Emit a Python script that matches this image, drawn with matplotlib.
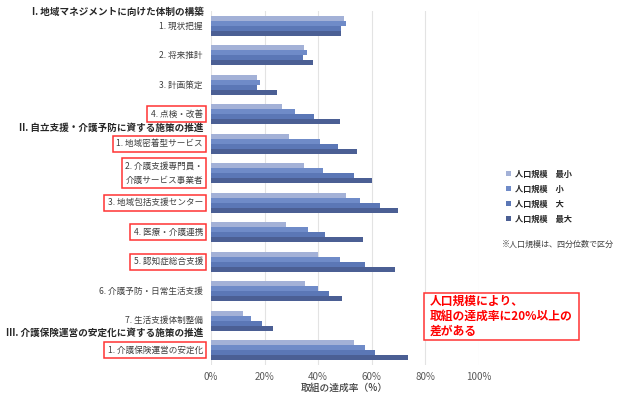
import matplotlib
matplotlib.use("Agg")
import matplotlib.pyplot as plt
from matplotlib.patches import Rectangle
import numpy as np

plt.rcParams['font.family'] = ['Noto Sans CJK JP', 'DejaVu Sans']

categories = [
    "1. 現状把握", "2. 将来推計", "3. 計画策定", "4. 点検・改善",
    "1. 地域密着型サービス", "2. 介護支援専門員・\n介護サービス事業者",
    "3. 地域包括支援センター", "4. 医療・介護連携", "5. 認知症総合支援",
    "6. 介護予防・日常生活支援", "7. 生活支援体制整備", "1. 介護保険運営の安定化",
]
boxed = [False, False, False, True, True, True, True, True, True, False, False, True]

series_names = ["人口規模　最小", "人口規模　小", "人口規模　大", "人口規模　最大"]
s_min = [0.498, 0.348, 0.172, 0.264, 0.290, 0.346, 0.505, 0.279, 0.400, 0.353, 0.118, 0.533]
s_small = [0.506, 0.358, 0.182, 0.314, 0.407, 0.417, 0.556, 0.361, 0.483, 0.400, 0.151, 0.577]
s_large = [0.485, 0.345, 0.172, 0.384, 0.475, 0.533, 0.632, 0.425, 0.575, 0.442, 0.192, 0.612]
s_max = [0.485, 0.380, 0.246, 0.481, 0.546, 0.603, 0.700, 0.567, 0.687, 0.489, 0.231, 0.738]
series = [s_min, s_small, s_large, s_max]
colors = ["#A3B1D7", "#6F8BC8", "#5B77B6", "#4B5F94"]

headers = ["I. 地域マネジメントに向けた体制の構築",
           "II. 自立支援・介護予防に資する施策の推進",
           "III. 介護保険運営の安定化に資する施策の推進"]
header_pos = [-0.47, 3.47, 10.41]

xticks = [0, 0.2, 0.4, 0.6, 0.8, 1.0]
xticklabels = ["0%", "20%", "40%", "60%", "80%", "100%"]

fig = plt.figure(figsize=(6.25, 3.97), dpi=100)
ax = fig.add_axes([211/625, 1-364.7/397, 267.5/625, 353.4/397])

y = np.arange(len(categories))
h = 0.17
for j, (vals, c, name) in enumerate(zip(series, colors, series_names)):
    ax.barh(y + (j - 1.5) * h, vals, height=h, color=c, label=name, zorder=3)

ax.set_ylim(len(categories) - 0.5, -0.5)
ax.set_xlim(0, 1.0)
ax.set_xticks(xticks)
ax.set_xticklabels(xticklabels, fontsize=7, color="#595959")
ax.set_yticks([])
ax.tick_params(axis='x', length=0, pad=5.5)
for s in ax.spines.values():
    s.set_visible(False)
ax.grid(axis='x', color="#E3E3E3", linewidth=0.8, zorder=0)
ax.set_xlabel("取組の達成率（%）", fontsize=7, color="#404040", labelpad=0.5,
              fontweight='medium')

tr = ax.get_yaxis_transform()
for i, (lab, b) in enumerate(zip(categories, boxed)):
    kw = dict(ha='right', va='center', multialignment='right', fontsize=6.2,
              color="#404040", transform=tr, clip_on=False, linespacing=1.75)
    if b:
        kw['bbox'] = dict(boxstyle='square,pad=0.4', facecolor='white',
                          edgecolor='#FF3333', linewidth=1.1)
    ax.text(-0.03, i, lab, **kw)

for hd, hp in zip(headers, header_pos):
    ax.text(-0.028, hp, hd, ha='right', va='center', fontsize=6.9,
            fontweight='bold', color="#262626", transform=tr, clip_on=False)

# legend
leg = fig.legend(loc='upper left', bbox_to_anchor=(499/625, 1-162/397),
                 frameon=False, handlelength=0.55, handleheight=0.55,
                 handletextpad=0.5, labelspacing=0.75,
                 prop={'weight': 'bold', 'size': 5.9})
for t in leg.get_texts():
    t.set_color("#262626")

fig.text(502/625, 1-244/397, "※人口規模は、四分位数で区分", fontsize=5.8,
         color="#404040", ha='left', va='center')

# annotation box
fig.patches.append(Rectangle((424/625, 1-340/397), 155/625, 47.5/397,
                             transform=fig.transFigure, facecolor='white',
                             edgecolor='#FF3333', linewidth=1.1))
fig.text(430/625, 1-316.5/397, "人口規模により、\n取組の達成率に20%以上の\n差がある",
         fontsize=8.5, fontweight='bold', color='#FF0000', ha='left', va='center',
         linespacing=1.2)

fig.savefig("out.png", dpi=100)
